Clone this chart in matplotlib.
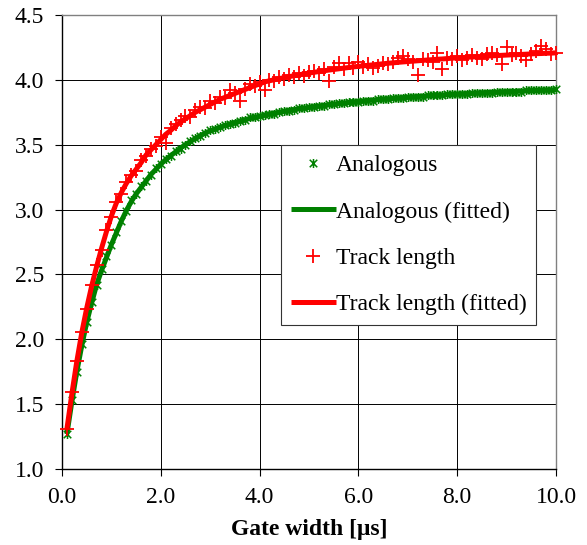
"""Variance-to-mean vs gate width: analogous and track-length estimators with fits."""

import matplotlib

matplotlib.use("Agg")
import matplotlib.pyplot as plt
from matplotlib.path import Path
from matplotlib.ticker import FormatStrFormatter, MultipleLocator

# ---------------------------------------------------------------- data

GATE_WIDTH = [
    0.1, 0.2, 0.3, 0.4, 0.5, 0.6, 0.7, 0.8, 0.9, 1.0,
    1.1, 1.2, 1.3, 1.4, 1.5, 1.6, 1.7, 1.8, 1.9, 2.0,
    2.1, 2.2, 2.3, 2.4, 2.5, 2.6, 2.7, 2.8, 2.9, 3.0,
    3.1, 3.2, 3.3, 3.4, 3.5, 3.6, 3.7, 3.8, 3.9, 4.0,
    4.1, 4.2, 4.3, 4.4, 4.5, 4.6, 4.7, 4.8, 4.9, 5.0,
    5.1, 5.2, 5.3, 5.4, 5.5, 5.6, 5.7, 5.8, 5.9, 6.0,
    6.1, 6.2, 6.3, 6.4, 6.5, 6.6, 6.7, 6.8, 6.9, 7.0,
    7.1, 7.2, 7.3, 7.4, 7.5, 7.6, 7.7, 7.8, 7.9, 8.0,
    8.1, 8.2, 8.3, 8.4, 8.5, 8.6, 8.7, 8.8, 8.9, 9.0,
    9.1, 9.2, 9.3, 9.4, 9.5, 9.6, 9.7, 9.8, 9.9, 10.0,
]

ANALOGOUS = [
    1.27, 1.53, 1.75, 1.96, 2.13, 2.29, 2.42, 2.54, 2.64, 2.73,
    2.83, 2.91, 2.99, 3.07, 3.12, 3.18, 3.22, 3.27, 3.32, 3.35,
    3.39, 3.41, 3.45, 3.47, 3.50, 3.53, 3.55, 3.57, 3.59, 3.61,
    3.62, 3.64, 3.65, 3.66, 3.67, 3.68, 3.69, 3.71, 3.71, 3.72,
    3.73, 3.74, 3.74, 3.75, 3.76, 3.76, 3.77, 3.78, 3.78, 3.79,
    3.79, 3.80, 3.80, 3.81, 3.81, 3.82, 3.82, 3.83, 3.83, 3.83,
    3.84, 3.84, 3.84, 3.85, 3.85, 3.85, 3.86, 3.86, 3.86, 3.87,
    3.87, 3.87, 3.87, 3.88, 3.88, 3.88, 3.88, 3.89, 3.89, 3.89,
    3.89, 3.89, 3.90, 3.90, 3.90, 3.90, 3.90, 3.91, 3.91, 3.91,
    3.91, 3.91, 3.91, 3.92, 3.92, 3.92, 3.92, 3.92, 3.92, 3.93,
]

ANALOGOUS_FIT = [
    1.27, 1.52, 1.75, 1.95, 2.13, 2.28, 2.42, 2.53, 2.63, 2.73,
    2.82, 2.91, 2.99, 3.06, 3.12, 3.17, 3.22, 3.27, 3.31, 3.35,
    3.385, 3.415, 3.445, 3.475, 3.50, 3.525, 3.548, 3.57, 3.59, 3.607,
    3.621, 3.635, 3.648, 3.660, 3.671, 3.682, 3.692, 3.702, 3.711, 3.720,
    3.728, 3.736, 3.744, 3.751, 3.758, 3.764, 3.771, 3.777, 3.782, 3.788,
    3.793, 3.798, 3.803, 3.808, 3.813, 3.817, 3.821, 3.826, 3.829, 3.833,
    3.837, 3.841, 3.844, 3.848, 3.851, 3.854, 3.857, 3.860, 3.863, 3.866,
    3.868, 3.871, 3.874, 3.876, 3.879, 3.881, 3.883, 3.886, 3.888, 3.890,
    3.892, 3.894, 3.896, 3.898, 3.900, 3.902, 3.904, 3.905, 3.907, 3.909,
    3.911, 3.912, 3.914, 3.915, 3.917, 3.918, 3.920, 3.921, 3.923, 3.924,
]

TRACK = [
    1.31, 1.59, 1.83, 2.06, 2.23, 2.42, 2.57, 2.69, 2.84, 2.94,
    3.06, 3.12, 3.21, 3.27, 3.30, 3.38, 3.41, 3.47, 3.49, 3.56,
    3.51, 3.63, 3.66, 3.69, 3.72, 3.71, 3.77, 3.79, 3.78, 3.84,
    3.82, 3.87, 3.86, 3.92, 3.90, 3.84, 3.93, 3.97, 3.95, 3.98,
    3.92, 4.00, 3.99, 4.02, 4.01, 4.04, 4.02, 4.05, 4.03, 4.06,
    4.07, 4.05, 4.08, 3.99, 4.10, 4.13, 4.08, 4.13, 4.09, 4.14,
    4.10, 4.12, 4.09, 4.11, 4.13, 4.12, 4.14, 4.17, 4.18, 4.16,
    4.14, 4.04, 4.16, 4.15, 4.14, 4.21, 4.08, 4.17, 4.16, 4.18,
    4.15, 4.17, 4.19, 4.17, 4.16, 4.20, 4.21, 4.19, 4.12, 4.25,
    4.19, 4.21, 4.18, 4.15, 4.20, 4.22, 4.26, 4.24, 4.20, 4.21,
]

TRACK_FIT = [
    1.31, 1.58, 1.83, 2.05, 2.24, 2.41, 2.56, 2.70, 2.83, 2.95,
    3.05, 3.13, 3.20, 3.26, 3.31, 3.36, 3.42, 3.46, 3.50, 3.54,
    3.58, 3.61, 3.645, 3.675, 3.70, 3.725, 3.75, 3.77, 3.79, 3.81,
    3.83, 3.85, 3.865, 3.88, 3.895, 3.91, 3.925, 3.94, 3.955, 3.968,
    3.984, 3.993, 4.001, 4.010, 4.017, 4.025, 4.032, 4.039, 4.046, 4.052,
    4.058, 4.064, 4.070, 4.075, 4.080, 4.085, 4.090, 4.095, 4.100, 4.104,
    4.108, 4.112, 4.116, 4.120, 4.124, 4.128, 4.131, 4.135, 4.138, 4.141,
    4.144, 4.147, 4.150, 4.153, 4.156, 4.159, 4.161, 4.164, 4.167, 4.169,
    4.171, 4.174, 4.176, 4.178, 4.181, 4.183, 4.185, 4.187, 4.189, 4.191,
    4.193, 4.194, 4.196, 4.198, 4.200, 4.202, 4.203, 4.205, 4.206, 4.208,
]

GREEN = "#008000"
RED = "#ff0000"

# Excel "star" marker: an x with a vertical stroke through it
STAR = Path(
    [(-1, -1), (1, 1), (-1, 1), (1, -1), (0, -1.2), (0, 1.2)],
    [Path.MOVETO, Path.LINETO, Path.MOVETO, Path.LINETO, Path.MOVETO, Path.LINETO],
)

plt.rcParams["font.family"] = ["Liberation Serif", "DejaVu Serif"]
plt.rcParams["font.size"] = 17

fig = plt.figure(figsize=(5.87, 5.45), dpi=100)
ax = fig.add_axes([0.1056, 0.1394, 0.8416, 0.8331])

ax.plot(GATE_WIDTH, ANALOGOUS, linestyle="none", marker=STAR, ms=6.5,
        mew=1.1, color=GREEN, label="Analogous", clip_on=False, zorder=3)
ax.plot(GATE_WIDTH, ANALOGOUS_FIT, color=GREEN, lw=3.6,
        label="Analogous (fitted)", solid_capstyle="butt", zorder=4)
ax.plot(GATE_WIDTH, TRACK, linestyle="none", marker="+", ms=9.5, mew=1.3,
        color=RED, label="Track length", clip_on=False, zorder=5)
ax.plot(GATE_WIDTH, TRACK_FIT, color=RED, lw=3.6,
        label="Track length (fitted)", solid_capstyle="butt", zorder=6)

ax.set_xlim(0, 10)
ax.set_ylim(1.0, 4.5)
ax.xaxis.set_major_locator(MultipleLocator(2))
ax.yaxis.set_major_locator(MultipleLocator(0.5))
ax.xaxis.set_major_formatter(FormatStrFormatter("%.1f"))
ax.yaxis.set_major_formatter(FormatStrFormatter("%.1f"))
ax.tick_params(direction="out", length=5, width=0.8, color="black",
               labelsize=17, pad=8)
ax.grid(True, color="black", lw=0.7, zorder=0)
ax.set_axisbelow(True)

for side in ("top", "right"):
    ax.spines[side].set_color("#808080")
    ax.spines[side].set_linewidth(1.0)
for side in ("left", "bottom"):
    ax.spines[side].set_color("black")
    ax.spines[side].set_linewidth(1.0)

ax.set_xlabel("Gate width [μs]", fontweight="bold", fontsize=17, labelpad=8)

leg = ax.legend(loc="upper left", bbox_to_anchor=(0.443, 0.714),
                borderaxespad=0, fancybox=False, framealpha=1,
                edgecolor="#333333", fontsize=17, handlelength=1.9,
                handletextpad=0.0, labelspacing=1.05, borderpad=0.42)
leg.get_frame().set_linewidth(0.8)

fig.savefig("out.png", dpi=100)
